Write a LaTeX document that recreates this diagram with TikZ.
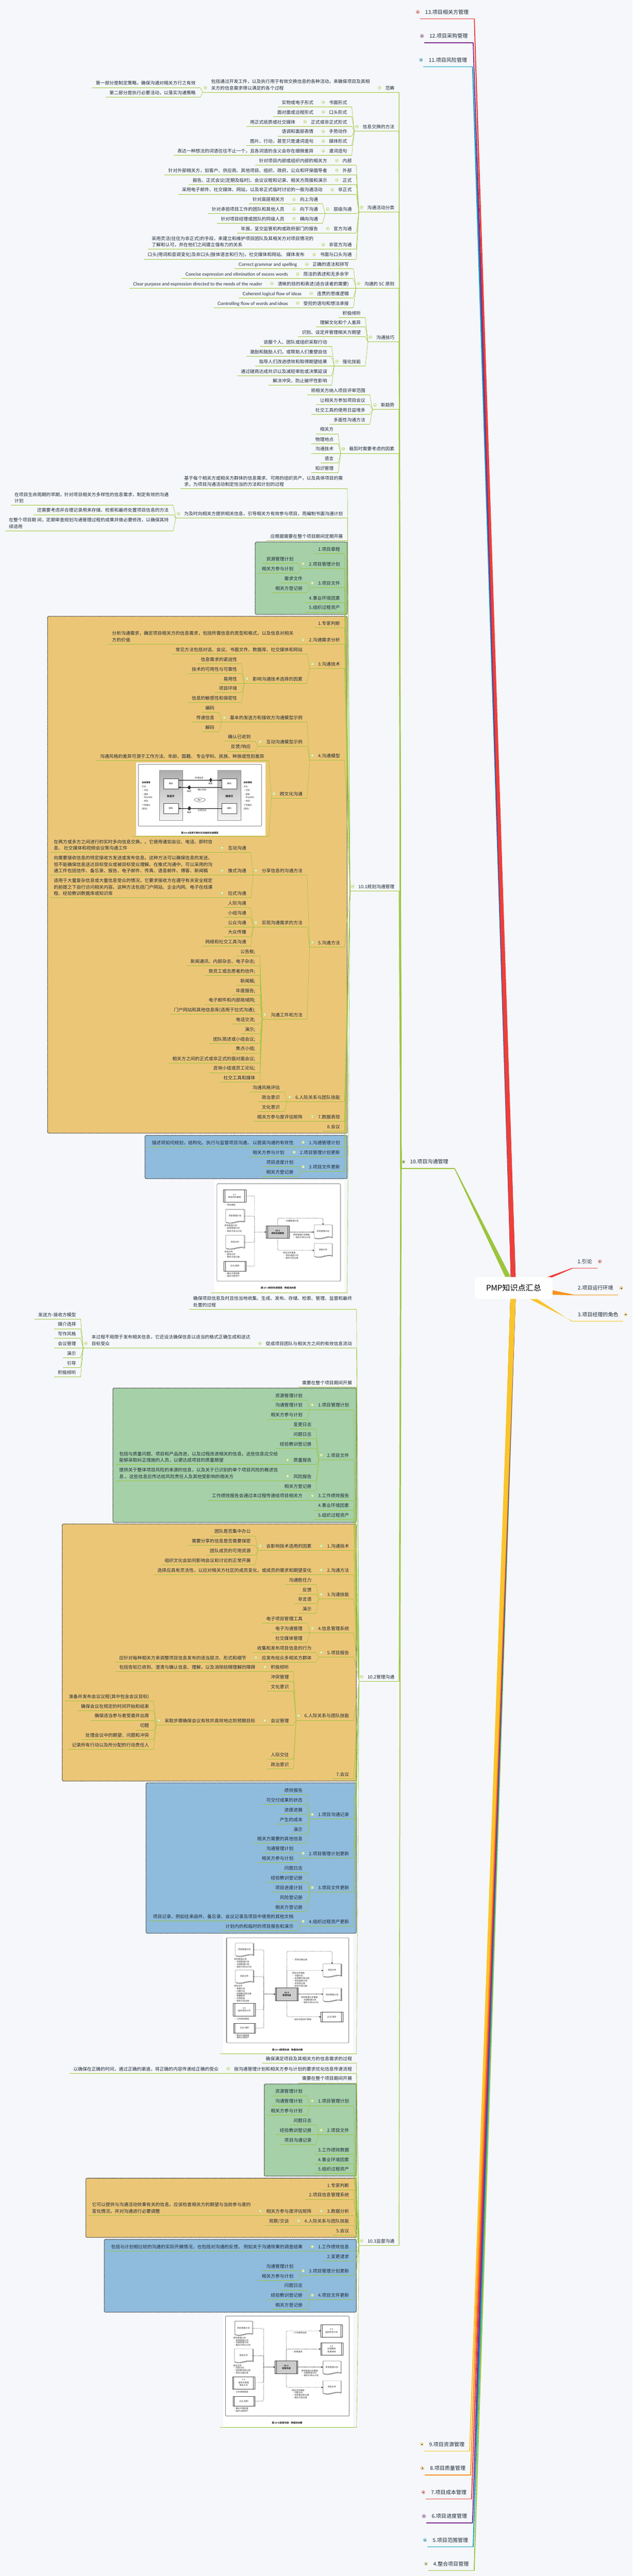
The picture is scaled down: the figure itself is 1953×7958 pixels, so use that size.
\documentclass[tikz,border=0pt]{standalone}
\usepackage{fontspec}
\setmainfont{Noto Sans CJK SC}
\newfontfamily\lat{Lato}
\usetikzlibrary{arrows.meta,calc,shapes.geometric}
\pgfdeclarelayer{fg}
\pgfsetlayers{main,fg}
\definecolor{bgc}{HTML}{F5F7FA}
\definecolor{txc}{HTML}{1E2A38}
\definecolor{lnc}{HTML}{9CC53D}
\definecolor{pg}{HTML}{A5D0A8}
\definecolor{po}{HTML}{ECC677}
\definecolor{pb}{HTML}{8FBBDC}
\definecolor{cred}{HTML}{EE3F38}
\definecolor{cora}{HTML}{F7941E}
\definecolor{cyel}{HTML}{F9C52D}
\definecolor{cpur}{HTML}{7E2E8E}
\definecolor{ctea}{HTML}{12A1C4}
\tikzset{
 tn/.style={inner sep=0pt,outer sep=0pt,align=left,text=txc,text depth=2pt,font=\fontsize{14pt}{20pt}\selectfont},
 t1n/.style={inner sep=0pt,outer sep=0pt,text=txc,font=\fontsize{16pt}{20pt}\selectfont},
 ln/.style={color=lnc,line width=1pt},
 ul/.style={color=lnc,line width=1.2pt},
 ic/.style={circle,draw=lnc,fill=white,line width=.8pt,minimum size=9pt,inner sep=0pt},
 panel/.style={draw=black!70,line width=2pt,densely dotted,rounded corners=4pt},
 sm/.style={inner sep=0pt,outer sep=0pt,text=black!85,align=center,font=\fontsize{6.5pt}{8.5pt}\selectfont},
 boxw/.style={sm,draw=black!70,fill=white,line width=.7pt},
 boxp/.style={sm,draw=black!70,fill=black!20,line width=.7pt,font=\fontsize{6.5pt}{8.5pt}\selectfont\bfseries},
 docf/.style={draw=black!70,fill=white,line width=.6pt},
 docn/.style={sm},
 capn/.style={sm,text=black!85,font=\fontsize{7pt}{9pt}\selectfont\bfseries},
 fl/.style={dotted,line width=1pt,rounded corners=3pt,color=black},
 fla/.style={fl,-{Stealth[length=5pt,width=4.5pt]}},
 ar/.style={line width=.7pt,color=black,-{Stealth[length=6pt,width=5pt]}},
 frm/.style={draw=black!75,line width=.8pt,rounded corners=2pt},
}
\def\shft{0pt}
\newcounter{tlc}
% leaf
\newcommand\LN[4]{%
 \path let \p1=(#2.west) in node[tn,anchor=south east] (#1) at ({\x1-48pt-\shft},{-(#3-6)*1pt}) {#4};
 \coordinate (#1-r) at ([shift={(14pt,-6pt)}]#1.south east);
 \coordinate (#1-l) at ([shift={(-12pt,-6pt)}]#1.south west);
 \draw[ln] (#2-j) -- (#1-r);
 \draw[ul] (#1-l) -- (#1-r);
}
% node with children
\newcommand\PN[4]{%
 \path let \p1=(#2.west) in node[tn,anchor=south east] (#1) at ({\x1-48pt-\shft},{-(#3-6)*1pt}) {#4};
 \coordinate (#1-r) at ([shift={(14pt,-6pt)}]#1.south east);
 \coordinate (#1-j) at ([shift={(-26pt,-6pt)}]#1.south west);
 \draw[ln] (#2-j) -- (#1-r);
 \draw[ul] (#1-j) -- (#1-r);
 \node[ic] (#1-i) at ([shift={(-18pt,8pt)}]#1.south west) {};
 \draw[color=lnc,line width=.8pt] ([xshift=-2.4pt]#1-i.center) -- ([xshift=2.4pt]#1-i.center);
}
\newcommand\PT[4]{\PN{#1}{#2}{#3}{#4}%
 \fill[lnc] ([xshift=-2pt]#2-j) -- ([xshift=2pt]#2-j) -- ([xshift=.7pt]#1-r) -- ([xshift=-.7pt]#1-r) -- cycle;}
\newcommand\PL[5]{\PN{#1}{#2}{#3}{#4}\LN{#1x}{#1}{#3}{#5}}
\newcommand\PB[4]{\def\shft{9pt}\PN{#1}{#2}{#3}{#4}\def\shft{0pt}}
\newcommand\LB[4]{\def\shft{9pt}\LN{#1}{#2}{#3}{#4}\def\shft{0pt}}
\newcommand\PBL[5]{\PB{#1}{#2}{#3}{#4}\LN{#1x}{#1}{#3}{#5}}
% top-level topics: name, text west x, underline y, xl, xr, circle x, colour, text
\newcommand\TopN[8]{%
 \node[t1n,anchor=west] (#1) at (#2,#3-21) {#8};
 \coordinate (#1-l) at (#4,#3);
 \coordinate (#1-r) at (#5,#3);
 \draw[line width=2.2pt,color=#7] (#1-l) -- (#1-r);
 \node[circle,draw=#7,fill=white,line width=.9pt,minimum size=10pt,inner sep=0pt] (#1-i) at (#6,#3-21) {};
 \draw[line width=.7pt,color=black!80] ([xshift=-2.4pt]#1-i.center) -- ([xshift=2.4pt]#1-i.center);
 \draw[line width=.7pt,color=black!80] ([yshift=-2.4pt]#1-i.center) -- ([yshift=2.4pt]#1-i.center);
}
\newcommand\WT[3]{\fill[#2] ([xshift=-1.4pt]#1-r) -- ([xshift=1.4pt]#1-r) -- ([xshift=#3+15pt]root.north) -- ([xshift=#3]root.north) -- cycle;}
\newcommand\WB[2]{\fill[#2] ([xshift=-1.4pt]#1-r) -- ([xshift=1.4pt]#1-r) -- ([xshift=6pt]root.south) -- ([xshift=-10pt]root.south) -- cycle;}
% picture leaf: name parent x1 y1 x2 y2 yu xl xr
\newcommand\IM[9]{%
 \node[draw=none,fill=white,inner sep=0pt,outer sep=0pt,minimum width={(#5-#3)*1pt},minimum height={(#6-#4)*1pt}] (#1) at ({(#3+#5)/2},{(#4+#6)/2}) {};
 \coordinate (#1-l) at (#8,#7);
 \coordinate (#1-r) at (#9,#7);
 \draw[ln] (#2-j) -- (#1-r);
 \draw[ul] (#1-l) -- (#1-r);
}
\newcommand\DocD[5]{\draw[docf,#5] (#1,#2) -- (#3,#2) -- ({#3},{#4-5}) .. controls ({#3-(#3-#1)*.35},{#4-11}) and ({#1+(#3-#1)*.4},{#4+4}) .. ({#1},{#4-3}) -- cycle;}
\newcommand\DocS[6]{%
 \DocD{#2}{#3}{#4}{#5}{xshift=2.4pt,yshift=-2pt}
 \DocD{#2}{#3}{#4}{#5}{xshift=1.2pt,yshift=-1pt}
 \DocD{#2}{#3}{#4}{#5}{}
 \node[docn,minimum width={(#4-#2)*1pt},minimum height={(#5-#3)*1pt}] (#1) at ({(#2+#4)/2},{(#3+#5)/2}) {\raisebox{3pt}{#6}};
}
\newcommand\BoxS[7]{%
 \node[#7,minimum width={(#4-#2)*1pt},minimum height={(#5-#3)*1pt}] (#1) at ({(#2+#4)/2},{(#3+#5)/2}) {#6};
 \draw[line width=.5pt,color=black!70] ({#2+4},{#3}) -- ({#2+4},{#5});
 \draw[line width=.5pt,color=black!70] ({#4-4},{#3}) -- ({#4-4},{#5});
}
\newcommand\TL[3]{\stepcounter{tlc}\node[sm,anchor=west] (tl\arabic{tlc}) at (#1,#2) {#3};}
\newcommand\TC[3]{\stepcounter{tlc}\node[sm] (tl\arabic{tlc}) at (#1,#2) {#3};}
\newcommand\Noi[2]{\foreach \dd/\hh in {-4/2,-2.5/4,-1/6,.5/5,2/6,3.5/3}{\draw[line width=.5pt,color=black!80] ({#1+\dd},{#2-\hh}) -- ({#1+\dd},{#2+\hh});}}
\begin{document}
\begin{tikzpicture}[x=1pt,y=-1pt]
\fill[bgc] (0,0) rectangle (1953,7958);
\path[use as bounding box] (0,0) rectangle (1953,7958);
\begin{pgfonlayer}{fg}
\node[fill=white,rounded corners=8pt,inner sep=0pt,outer sep=0pt,minimum width=240pt,minimum height=68pt,text=black,font=\fontsize{24pt}{28pt}\selectfont] (root) at (1586,3979) {PMP知识点汇总};
\end{pgfonlayer}
% panels
\draw[panel,fill=pg] (788,1674.5) rectangle (1072,1898);
\draw[panel,fill=po] (147,1904) rectangle (1072,3500.7);
\draw[panel,fill=pb] (447.6,3507.6) rectangle (1072,3641.3);
\draw[panel,fill=pg] (348.7,4288) rectangle (1100,4703);
\draw[panel,fill=po] (192,4708) rectangle (1100,5502);
\draw[panel,fill=pb] (451,5507.6) rectangle (1100,5972.4);
\draw[panel,fill=pg] (816,6438) rectangle (1100,6722.4);
\draw[panel,fill=po] (265,6729) rectangle (1100,6912);
\draw[panel,fill=pb] (322,6918) rectangle (1100,7143);
% top level
\TopN{t13}{1313}{58}{1297}{1464.5}{1290}{cred}{13.项目相关方管理}
\TopN{t12}{1326}{132}{1310}{1461}{1303}{cpur}{12.项目采购管理}
\TopN{t11}{1324}{206}{1307}{1459}{1300}{ctea}{11.项目风险管理}
\TopN{t10}{1266}{3610}{1238}{1404}{1246}{lnc}{10.项目沟通管理}
\coordinate (t10-j) at (1238,3610);
\TopN{t9}{1325}{7572}{1309}{1450}{1302}{cyel}{9.项目资源管理}
\TopN{t8}{1328}{7646}{1311}{1453}{1304}{cora}{8.项目质量管理}
\TopN{t7}{1331}{7720}{1314}{1456}{1307}{cred}{7.项目成本管理}
\TopN{t6}{1333}{7794}{1316}{1459}{1309}{cpur}{6.项目进度管理}
\TopN{t5}{1336}{7868}{1319}{1461}{1312}{ctea}{5.项目范围管理}
\TopN{t4}{1338}{7941}{1322}{1464}{1315}{lnc}{4.整合项目管理}
\TopN{t1}{1783}{3918}{1767}{1845}{1852}{cred}{1.引论}
\TopN{t2}{1784}{4000}{1769}{1909}{1918}{cora}{2.项目运行环境}
\TopN{t3}{1784}{4082}{1767}{1925}{1932}{cyel}{3.项目经理的角色}
\WT{t11}{ctea}{-9pt}
\WT{t12}{cpur}{-9pt}
\WT{t13}{cred}{-9pt}
\fill[lnc] ([xshift=-1.4pt]t10-r) -- ([xshift=1.4pt]t10-r) -- ([xshift=-9pt]root.north) -- ([xshift=-26pt]root.north) -- cycle;
\WB{t4}{lnc}\WB{t5}{ctea}\WB{t6}{cpur}\WB{t7}{cred}\WB{t8}{cora}\WB{t9}{cyel}
\fill[cred] ([shift={(-28pt,-4pt)}]root.north east) -- ([shift={(-2pt,-1.5pt)}]root.north east) -- ([yshift=-1.2pt]t1-l) -- ([yshift=1.2pt]t1-l) -- cycle;
\fill[cora] ([yshift=-7pt]root.east) -- ([yshift=-21pt]root.east) -- ([yshift=-1.2pt]t2-l) -- ([yshift=1.2pt]t2-l) -- cycle;
\fill[cyel] ([xshift=50pt]root.south) -- ([xshift=73pt]root.south) -- ([yshift=-1.2pt]t3-l) -- ([yshift=1.2pt]t3-l) -- cycle;
% ---------- general
\PT{a}{t10}{285}{范畴}
\PN{a1}{a}{285}{包括通过开发工件，以及执行用于有效交换信息的各种活动，来确保项目及其相\\关方的信息需求得以满足的各个过程}
\LN{a1a}{a1}{270.5}{第一部分是制定策略，确保沟通对相关方行之有效}
\LN{a1b}{a1}{300.5}{第二部分是执行必要活动，以落实沟通策略}
\PT{b}{t10}{405}{信息交换的方法}
\PL{b1}{b}{330}{书面形式}{实物或电子形式}
\PL{b2}{b}{360}{口头形式}{面对面或远程形式}
\PL{b3}{b}{390}{正式或非正式形式}{用正式纸质或社交媒体}
\PL{b4}{b}{420}{手势动作}{语调和面部表情}
\PL{b5}{b}{450}{媒体形式}{图片、行动，甚至只是遣词造句}
\PL{b6}{b}{480}{遣词造句}{表达一种想法的词语往往不止一个，且各词语的含义会存在细微差异}
\PT{c}{t10}{655}{沟通活动分类}
\PL{c1}{c}{510}{内部}{针对项目内部或组织内部的相关方}
\PL{c2}{c}{540}{外部}{针对外部相关方，如客户、供应商、其他项目、组织、政府，公众和环保倡导者}
\PL{c3}{c}{570}{正式}{报告、正式会议(定期及临时)、会议议程和记录、相关方简报和演示}
\PL{c4}{c}{600}{非正式}{采用电子邮件、社交媒体、网站，以及非正式临时讨论的一般沟通活动}
\PN{c5}{c}{660}{层级沟通}
\PL{c5a}{c5}{630}{向上沟通}{针对高层相关方}
\PL{c5b}{c5}{660}{向下沟通}{针对承担项目工作的团队和其他人员}
\PL{c5c}{c5}{690}{横向沟通}{针对项目经理或团队的同级人员}
\PL{c6}{c}{720}{官方沟通}{年报，呈交监管机构或政府部门的报告}
\PL{c7}{c}{770}{非官方沟通}{采用灵活(往往为非正式)的手段，来建立和维护项目团队及其相关方对项目情况的\\了解和认可，并在他们之间建立强有力的关系}
\PL{c8}{c}{800.5}{书面与口头沟通}{口头(用词和音调变化)及非口头(肢体语言和行为)，社交媒体和网站、 媒体发布}
\PT{d}{t10}{890}{沟通的 5C 原则}
\PL{d1}{d}{830.6}{正确的语法和拼写}{\lat Correct grammar and spelling}
\PL{d2}{d}{860.7}{简洁的表述和无多余字}{\lat Concise expression and elimination of excess words}
\PL{d3}{d}{890}{清晰的目的和表述(适合读者的需要)}{\lat Clear purpose and expression directed to the needs of the reader}
\PL{d4}{d}{920.4}{连贯的思维逻辑}{\lat Coherent logical flow of ideas}
\PL{d5}{d}{950.5}{受控的语句和想法承接}{\lat Controlling flow of words and ideas}
\PT{e}{t10}{1055.6}{沟通技巧}
\LN{e1}{e}{980.6}{积极倾听}
\LN{e2}{e}{1010}{理解文化和个人差异}
\LN{e3}{e}{1040}{识别、设定并管理相关方期望}
\PN{e4}{e}{1130.6}{强化技能}
\LN{e4a}{e4}{1070}{说服个人、团队或组织采取行动}
\LN{e4b}{e4}{1100.5}{激励和鼓励人们，或帮助人们重塑自信}
\LN{e4c}{e4}{1130.6}{指导人们改进绩效和取得期望结果}
\LN{e4d}{e4}{1160.7}{通过磋商达成共识以及减轻审批或决策延误}
\LN{e4e}{e4}{1190.3}{解决冲突，防止破坏性影响}
\PT{f}{t10}{1265}{新趋势}
\LN{f1}{f}{1220}{将相关方纳入项目评审范围}
\LN{f2}{f}{1250.5}{让相关方参加项目会议}
\LN{f3}{f}{1280.6}{社交工具的使用日益增多}
\LN{f4}{f}{1310.7}{多面性沟通方法}
\PT{g}{t10}{1400.5}{裁剪时需要考虑的因素}
\LN{g1}{g}{1340}{相关方}
\LN{g2}{g}{1370.4}{物理地点}
\LN{g3}{g}{1400.5}{沟通技术}
\LN{g4}{g}{1430.6}{语言}
\LN{g5}{g}{1460}{知识管理}
% ---------- 10.1
\PT{p}{t10}{2752.6}{10.1规划沟通管理}
\LN{pa}{p}{1510}{基于每个相关方或相关方群体的信息需求、可用的组织资产，以及具体项目的需\\求，为项目沟通活动制定恰当的方法和计划的过程}
\PN{pb1}{p}{1600.5}{为及时向相关方提供相关信息，引导相关方有效参与项目，而编制书面沟通计划}
\LN{pb1a}{pb1}{1560.7}{在项目生命周期的早期，针对项目相关方多样性的信息需求，制定有效的沟通\\计划}
\LN{pb1b}{pb1}{1590}{还需要考虑并合理记录用来存储、检索和最终处置项目信息的方法}
\LN{pb1c}{pb1}{1640}{在整个项目期 间，定期审查规划沟通管理过程的成果并做必要修改，以确保其持\\续适用}
\LN{pc}{p}{1670}{应根据需要在整个项目期间定期开展}
% inputs
\LB{i1}{p}{1710.7}{1.项目章程}
\PB{i2}{p}{1755.6}{2.项目管理计划}
\LN{i2a}{i2}{1740}{资源管理计划}
\LN{i2b}{i2}{1770}{相关方参与计划}
\PB{i3}{p}{1815}{3.项目文件}
\LN{i3a}{i3}{1800.5}{需求文件}
\LN{i3b}{i3}{1830.6}{相关方登记册}
\LB{i4}{p}{1860.7}{4.事业环境因素}
\LB{i5}{p}{1890.8}{5.组织过程资产}
% tools
\LB{j1}{p}{1939.8}{1.专家判断}
\PBL{j2}{p}{1990.3}{2.沟通需求分析}{分析沟通需求，确定项目相关方的信息需求，包括所需信息的类型和格式，以及信息对相关\\方的价值}
\PB{j3}{p}{2065}{3.沟通技术}
\LN{j3a}{j3}{2020}{常见方法包括对话、会议、书面文件、数据库、社交媒体和网站}
\PN{j3b}{j3}{2110.7}{影响沟通技术选择的因素}
\LN{j3b1}{j3b}{2050.5}{信息需求的紧迫性}
\LN{j3b2}{j3b}{2080.6}{技术的可用性与可靠性}
\LN{j3b3}{j3b}{2110.7}{易用性}
\LN{j3b4}{j3b}{2140.3}{项目环境}
\LN{j3b5}{j3b}{2170.4}{信息的敏感性和保密性}
\PB{j4}{p}{2348.5}{4.沟通模型}
\PN{j4a}{j4}{2230.6}{基本的发送方和接收方沟通模型示例}
\LN{j4a1}{j4a}{2200.5}{编码}
\LN{j4a2}{j4a}{2230.6}{传递信息}
\LN{j4a3}{j4a}{2260.7}{解码}
\PN{j4b}{j4}{2305}{互动沟通模型示例}
\LN{j4b1}{j4b}{2290}{确认已收到}
\LN{j4b2}{j4b}{2320.4}{反馈/响应}
\PN{j4c}{j4}{2465.8}{跨文化沟通}
\LN{j4c1}{j4c}{2350.5}{沟通风格的差异可源于工作方法、年龄、国籍、 专业学科、民族、种族或性别差异}
\IM{im1}{j4c}{420}{2355}{820}{2581}{2583}{409}{830}
\PB{j5}{p}{2925.5}{5.沟通方法}
\PN{j5a}{j5}{2703.6}{分享信息的沟通方法}
\PL{j5a1}{j5a}{2633.7}{互动沟通}{在两方或多方之间进行的实时多向信息交换。。它使用诸如会议、电话、即时信\\息、 社交媒体和视频会议等沟通工件}
\PL{j5a2}{j5a}{2703.6}{推式沟通}{向需要接收信息的特定接收方发送或发布信息。这种方法可以确保信息的发送，\\但不能确保信息送达目标受众或被目标受众理解。在推式沟通中，可以采用的沟\\通工件包括信件、备忘录、报告、电子邮件、传真、语音邮件、博客、新闻稿}
\PL{j5a3}{j5a}{2773.5}{拉式沟通}{适用于大量复杂信息或大量信息受众的情况。它要求接收方在遵守有关安全规定\\的前提之下自行访问相关内容。这种方法包括门户网站、企业内网、电子在线课\\程、经验教训数据库或知识库}
\PN{j5b}{j5}{2863.8}{实现沟通需求的方法}
\LN{j5b1}{j5b}{2803.6}{人际沟通}
\LN{j5b2}{j5b}{2833.7}{小组沟通}
\LN{j5b3}{j5b}{2863.8}{公众沟通}
\LN{j5b4}{j5b}{2893.4}{大众传播}
\LN{j5b5}{j5b}{2923.5}{网络和社交工具沟通}
\PN{j5c}{j5}{3148.2}{沟通工件和方法}
\LN{j5c1}{j5c}{2953.6}{公告板;}
\LN{j5c2}{j5c}{2983.7}{新闻通讯、内部杂志、电子杂志;}
\LN{j5c3}{j5c}{3013.3}{致员工或志愿者的信件;}
\LN{j5c4}{j5c}{3043.4}{新闻稿;}
\LN{j5c5}{j5c}{3073.5}{年度报告;}
\LN{j5c6}{j5c}{3103.6}{电子邮件和内部局域网;}
\LN{j5c7}{j5c}{3133.3}{门户网站和其他信息库(适用于拉式沟通);}
\LN{j5c8}{j5c}{3163}{电话交流;}
\LN{j5c9}{j5c}{3193.6}{演示;}
\LN{j5c10}{j5c}{3223.4}{团队简述或小组会议;}
\LN{j5c11}{j5c}{3253}{焦点小组;}
\LN{j5c12}{j5c}{3283.7}{相关方之间的正式或非正式的面对面会议;}
\LN{j5c13}{j5c}{3313.5}{咨询小组或员工论坛;}
\LN{j5c14}{j5c}{3343.4}{社交工具和媒体}
\PB{j6}{p}{3403.7}{6.人际关系与团队技能}
\LN{j6a}{j6}{3373}{沟通风格评估}
\LN{j6b}{j6}{3403.7}{政治意识}
\LN{j6c}{j6}{3433.5}{文化意识}
\PBL{j7}{p}{3463.4}{7.数据表现}{相关方参与度评估矩阵}
\LB{j8}{p}{3493.8}{8.会议}
% outputs
\PBL{k1}{p}{3543}{1.沟通管理计划}{描述将如何规划，结构化、执行与监督项目沟通， 以提高沟通的有效性}
\PBL{k2}{p}{3573.6}{2.项目管理计划更新}{相关方参与计划}
\PB{k3}{p}{3618.4}{3.项目文件更新}
\LN{k3a}{k3}{3603.4}{项目进度计划}
\LN{k3b}{k3}{3633.9}{相关方登记册}
\IM{im2}{p}{661.6}{3648}{1063}{3992.7}{3994.4}{651}{1072}
% ---------- 10.2
\PT{q}{t10}{5194}{10.2管理沟通}
\LN{qa}{q}{4044.4}{确保项目信息及时且恰当地收集、生成、发布、存储、检索、管理、监督和最终\\处置的过程}
\PN{qb}{q}{4164.3}{促成项目团队与相关方之间的有效信息流动}
\PN{qb1}{qb}{4164.3}{本过程不局限于发布相关信息，它还设法确保信息以适当的格式正确生成和送达\\目标受众}
\LN{qb1a}{qb1}{4074.5}{发送方-接收方模型}
\LN{qb1b}{qb1}{4104.6}{媒介选择}
\LN{qb1c}{qb1}{4134.7}{写作风格}
\LN{qb1d}{qb1}{4164.3}{会议管理}
\LN{qb1e}{qb1}{4194.4}{演示}
\LN{qb1f}{qb1}{4224.5}{引导}
\LN{qb1g}{qb1}{4254}{积极倾听}
\LN{qc}{q}{4284.7}{需要在整个项目期间开展}
\PB{m1}{q}{4354.6}{1.项目管理计划}
\LN{m1a}{m1}{4324.5}{资源管理计划}
\LN{m1b}{m1}{4354.6}{沟通管理计划}
\LN{m1c}{m1}{4384.7}{相关方参与计划}
\PB{m2}{q}{4509}{2.项目文件}
\LN{m2a}{m2}{4414.3}{变更日志}
\LN{m2b}{m2}{4444.4}{问题日志}
\LN{m2c}{m2}{4474.5}{经验教训登记册}
\PL{m2d}{m2}{4524.5}{质量报告}{包括与质量问题、项目和产品改进，以及过程改进相关的信息。这些信息应交给\\能够采取纠正措施的人员，以便达成项目的质量期望}
\PL{m2e}{m2}{4574.5}{风险报告}{提供关于整体项目风险的来源的信息，以及关于已识别的单个项目风险的概述信\\息 。这些信息应传达给风险责任人及其他受影响的相关方}
\LN{m2f}{m2}{4604.6}{相关方登记册}
\PBL{m3}{q}{4634.7}{3.工作绩效报告}{工作绩效报告会通过本过程传递给项目相关方}
\LB{m4}{q}{4664.8}{4.事业环境因素}
\LB{m5}{q}{4694.4}{5.组织过程资产}
\PB{n1}{q}{4789.8}{1.沟通技术}
\PN{n1a}{n1}{4789.8}{会影响技术选用的因素}
\LN{n1a1}{n1a}{4744.4}{团队是否集中办公}
\LN{n1a2}{n1a}{4774.5}{需要分享的信息是否需要保密}
\LN{n1a3}{n1a}{4804.6}{团队成员的可用资源}
\LN{n1a4}{n1a}{4834.7}{组织文化会如何影响会议和讨论的正常开展}
\PBL{n2}{q}{4864.3}{2.沟通方法}{选择应具有灵活性，以应对相关方社区的成员变化，或成员的需求和期望变化}
\PB{n3}{q}{4939.3}{3.沟通技能}
\LN{n3a}{n3}{4894.4}{沟通胜任力}
\LN{n3b}{n3}{4924.5}{反馈}
\LN{n3c}{n3}{4954}{非言语}
\LN{n3d}{n3}{4984.2}{演示}
\PB{n4}{q}{5044.4}{4.信息管理系统}
\LN{n4a}{n4}{5014.3}{电子项目管理工具}
\LN{n4b}{n4}{5044.4}{电子沟通管理}
\LN{n4c}{n4}{5074.5}{社交媒体管理}
\PB{n5}{q}{5119.4}{5.项目报告}
\LN{n5a}{n5}{5104.6}{收集和发布项目信息的行为}
\PL{n5b}{n5}{5134.7}{应发布给众多相关方群体}{应针对每种相关方来调整项目信息发布的适当层次、形式和细节}
\PB{n6}{q}{5314.3}{6.人际关系与团队技能}
\PL{n6a}{n6}{5164.3}{积极倾听}{包括告知已收到、澄清与确认信息、理解，以及消除妨碍理解的障碍}
\LN{n6b}{n6}{5194.4}{冲突管理}
\LN{n6c}{n6}{5224.5}{文化意识}
\PN{n6d}{n6}{5329.6}{会议管理}
\PN{n6dx}{n6d}{5329.6}{采取步骤确保会议有效并高效地达到预期目标}
\LN{n6d1}{n6dx}{5254.6}{准备并发布会议议程(其中包含会议目标)}
\LN{n6d2}{n6dx}{5284.7}{确保会议在规定的时间开始和结束}
\LN{n6d3}{n6dx}{5314.3}{确保适当参与者受邀并出席}
\LN{n6d4}{n6dx}{5344.4}{切题}
\LN{n6d5}{n6dx}{5374.5}{处理会议中的期望、问题和冲突}
\LN{n6d6}{n6dx}{5404.6}{记录所有行动以及所分配的行动责任人}
\LN{n6e}{n6}{5434.7}{人际交往}
\LN{n6f}{n6}{5464.3}{政治意识}
\LB{n7}{q}{5494.4}{7.会议}
\PB{o1}{q}{5619.4}{1.项目沟通记录}
\LN{o1a}{o1}{5544.4}{绩效报告}
\LN{o1b}{o1}{5574.5}{可交付成果的状态}
\LN{o1c}{o1}{5604.6}{进度进展}
\LN{o1d}{o1}{5634.7}{产生的成本}
\LN{o1e}{o1}{5664.8}{演示}
\LN{o1f}{o1}{5694.4}{相关方需要的其他信息}
\PB{o2}{q}{5739.3}{2.项目管理计划更新}
\LN{o2a}{o2}{5724.5}{沟通管理计划}
\LN{o2b}{o2}{5754.6}{相关方参与计划}
\PB{o3}{q}{5845}{3.项目文件更新}
\LN{o3a}{o3}{5784.7}{问题日志}
\LN{o3b}{o3}{5814.8}{经验教训登记册}
\LN{o3c}{o3}{5844.9}{项目进度计划}
\LN{o3d}{o3}{5875}{风险登记册}
\LN{o3e}{o3}{5905}{相关方登记册}
\PB{o4}{q}{5949.5}{4.组织过程资产更新}
\LN{o4a}{o4}{5934.7}{项目记录，例如往来函件、备忘录、会议记录及项目中使用的其他文档}
\LN{o4b}{o4}{5964.8}{计划内的和临时的项目报告和演示}
\IM{im3}{q}{689.7}{5978.6}{1091}{6343}{6344.9}{679}{1100.7}
% ---------- 10.3
\PT{r}{t10}{6936.7}{10.3监督沟通}
\LN{ra}{r}{6374}{确保满足项目及其相关方的信息需求的过程}
\PL{rb}{r}{6404.6}{按沟通管理计划和相关方参与计划的要求优化信息传递流程}{以确保在正确的时间，通过正确的渠道，将正确的内容传递给正确的受众}
\LN{rc}{r}{6434.7}{需要在整个项目期间开展}
\PB{u1}{r}{6504.6}{1.项目管理计划}
\LN{u1a}{u1}{6474.5}{资源管理计划}
\LN{u1b}{u1}{6504.6}{沟通管理计划}
\LN{u1c}{u1}{6534.7}{相关方参与计划}
\PB{u2}{r}{6594.4}{2.项目文件}
\LN{u2a}{u2}{6564.3}{问题日志}
\LN{u2b}{u2}{6594.4}{经验教训登记册}
\LN{u2c}{u2}{6624.5}{项目沟通记录}
\LB{u3}{r}{6654.6}{3.工作绩效数据}
\LB{u4}{r}{6684.7}{4.事业环境因素}
\LB{u5}{r}{6714.3}{5.组织过程资产}
\LB{v1}{r}{6764.3}{1.专家判断}
\LB{v2}{r}{6794.4}{2.项目信息管理系统}
\PB{v3}{r}{6844.4}{3.数据分析}
\PL{v3a}{v3}{6844.4}{相关方参与度评估矩阵}{它可以提供与沟通活动效果有关的信息。应该检查相关方的期望与当前参与度的\\变化情况，并对沟通进行必要调整}
\PBL{v4}{r}{6874.5}{4.人际关系与团队技能}{观察/交谈}
\LB{v5}{r}{6904.6}{5.会议}
\PBL{w1}{r}{6954.6}{1.工作绩效信息}{包括与计划相比较的沟通的实际开展情况，也包括对沟通的反馈， 例如关于沟通效果的调查结果}
\LB{w2}{r}{6984.7}{2.变更请求}
\PB{w3}{r}{7029}{3.项目管理计划更新}
\LN{w3a}{w3}{7014.3}{沟通管理计划}
\LN{w3b}{w3}{7044.4}{相关方参与计划}
\PB{w4}{r}{7104.6}{4.项目文件更新}
\LN{w4a}{w4}{7074.5}{问题日志}
\LN{w4b}{w4}{7104.6}{经验教训登记册}
\LN{w4c}{w4}{7134.7}{相关方登记册}
\IM{im4}{r}{689}{7148}{1091}{7497}{7498.7}{679}{1101}
% ---------- figure 10-4
\draw[frm] (427,2361) rectangle (807.5,2552);
\shade[top color=black!32,bottom color=black!4,draw=black!45,line width=1pt] (492,2380) rectangle (564,2535);
\shade[top color=black!32,bottom color=black!4,draw=black!45,line width=1pt] (672,2380) rectangle (744,2535);
\node[boxw,minimum width=46.5pt,minimum height=33pt] (ca) at (528,2421.3) {编码};
\node[boxw,minimum width=46.5pt,minimum height=33pt] (cb) at (528,2497.5) {解码};
\node[boxw,minimum width=46.5pt,minimum height=33pt] (cc) at (708,2421.3) {解码};
\node[boxw,minimum width=46.5pt,minimum height=33pt] (cd) at (708,2497.5) {编码};
\draw[ar] ([yshift=11pt]ca.east) -- ([yshift=11pt]cc.west);
\draw[ar] ([yshift=-11pt]cc.west) -- ([yshift=-11pt]ca.east);
\draw[ar] (cd.west) -- (cb.east);
\node[sm,font=\fontsize{8pt}{10pt}\selectfont\bfseries] (ce) at (527,2460) {发送方};
\node[sm,font=\fontsize{8pt}{10pt}\selectfont\bfseries] (cf) at (708,2460) {接收方};
\node[sm,draw=black!80,ellipse,minimum width=34pt,minimum height=12pt,line width=.7pt] (cg) at (617,2471) {媒介};
\TC{615}{2403.6}{传递信息}
\TC{624}{2440}{确认信息}
\TC{624}{2504}{反馈信息}
\TC{650}{2421}{噪音}
\TC{584}{2444}{噪音}
\TC{584}{2510}{噪音}
\Noi{650}{2410}\Noi{584}{2432.6}\Noi{584}{2497.4}
\TL{438}{2418}{\bfseries 当前情绪}
\TL{438}{2431}{文化：}\TL{438}{2442}{·代际}\TL{438}{2453.6}{·国家}\TL{438}{2464}{·专业学科}\TL{438}{2475}{·性别}\TL{438}{2488}{个性偏见}\TL{438}{2499}{(假设)}
\TL{752}{2418}{\bfseries 当前情绪}
\TL{752}{2431}{文化：}\TL{752}{2442}{·代际}\TL{752}{2453.6}{·国家}\TL{752}{2464}{·专业学科}\TL{752}{2475}{·性别}\TL{752}{2488}{个性偏见}\TL{752}{2499}{(假设)}
\node[capn] (ch) at (617,2573.5) {图 10-4适用于跨文化沟通的沟通模型};
% ---------- figure 10-3
\draw[frm] (670,3657) rectangle (1051,3958);
\BoxS{ga}{690}{3676}{759}{3714}{4.1\\制定项目章程}{boxw}
\DocS{gb}{697}{3736}{754}{3778.5}{项目管理计划}
\DocS{gc}{697}{3816.4}{754}{3859}{项目文件}
\BoxS{gd}{691}{3896}{760}{3927}{企业/组织}{boxw}
\BoxS{gp}{822}{3786.6}{893}{3825.6}{10.1\\规划沟通管理}{boxp}
\DocS{ge}{970}{3784}{1025}{3827}{项目管理计划}
\DocS{gf}{970}{3841.7}{1025}{3884}{项目文件}
\coordinate (gbus) at (786,3806);
\draw[fl] (ga.east) -| (gbus);
\draw[fl] (gb.east) -| (gbus);
\draw[fl] (gc.east) -| (gbus);
\draw[fl] (gd.east) -| (gbus);
\draw[fla] (gbus) -- (gp.west);
\draw[fla] (gp.north) -- ++(0,-23) -| (ge.north);
\draw[fla] (gp.east) -- (gp.east -| ge.west);
\draw[fla] (gp.south) |- (gf.west);
\TL{693}{3722}{• 项目章程}
\TL{693}{3787}{项目管理计划}\TL{693}{3795}{• 资源管理计划}\TL{693}{3804}{• 相关方参与计划}
\TL{693}{3867.5}{项目文件}\TL{693}{3876}{• 需求文件}\TL{693}{3884}{• 相关方登记册}
\TL{693}{3934.7}{• 事业环境因素}\TL{693}{3942.7}{• 组织过程资产}
\TL{875}{3771.6}{• 沟通管理计划}
\TL{905}{3815}{项目管理计划更新}\TL{905}{3823}{• 相关方参与计划}
\TL{874}{3871}{项目文件更新}\TL{874}{3879}{• 项目进度计划}\TL{874}{3887}{• 相关方登记册}
\node[capn] (gz) at (859.5,3978) {图 10-3规划沟通管理：数据流向图};
% ---------- figure 10-6
\draw[frm] (699.5,5986) rectangle (1077,6311);
\DocS{ha}{727}{6003}{782}{6044}{项目管理计划}
\DocS{hb}{727}{6086}{782}{6127}{项目文件}
\BoxS{hc}{720.5}{6189}{788}{6228}{4.5\\监控项目工作}{boxw}
\BoxS{hd}{721}{6250}{788.6}{6280}{企业/组织}{boxw}
\BoxS{hp}{850}{6141}{921}{6180}{10.2\\管理沟通}{boxp}
\DocS{he}{997.6}{6067}{1053}{6108}{项目文件}
\DocS{hf}{997.6}{6142}{1053}{6184}{项目管理计划}
\BoxS{hg}{990.6}{6216}{1058}{6245}{企业/组织}{boxw}
\coordinate (hbus) at (814.5,6160.5);
\draw[fl] (ha.east) -| (hbus);
\draw[fl] (hb.east) -| (hbus);
\draw[fl] (hc.east) -| (hbus);
\draw[fl] (hd.east) -| (hbus);
\draw[fla] (hbus) -- (hp.west);
\draw[fla] (hp.north) -- ++(0,-113) -| (he.north);
\draw[fla] (hp.north) |- (he.west);
\draw[fla] (hp.east) -- (hp.east -| hf.west);
\draw[fla] (hp.south) |- (hg.west);
\TL{722.6}{6053}{项目管理计划}\TL{722.6}{6060.7}{• 资源管理计划}\TL{722.6}{6068}{• 沟通管理计划}\TL{722.6}{6076}{• 相关方参与计划}
\TL{722.6}{6135}{项目文件}\TL{722.6}{6143}{• 变更日志}\TL{722.6}{6151}{• 问题日志}\TL{722.6}{6158.7}{• 经验教训登记册}\TL{722.6}{6166}{• 质量报告}\TL{722.6}{6174}{• 风险报告}\TL{722.6}{6181.6}{• 相关方登记册}
\TL{722.6}{6237}{• 工作绩效报告}
\TL{722.6}{6288}{• 事业环境因素}\TL{722.6}{6295}{• 组织过程资产}
\TL{902}{6054.6}{• 项目沟通记录}
\TL{902}{6096}{项目文件更新}\TL{902}{6104}{• 问题日志}\TL{902}{6112}{• 经验教训登记册}\TL{902}{6119}{• 项目进度计划}\TL{902}{6127}{• 风险登记册}\TL{902}{6135}{• 相关方登记册}
\TL{929.6}{6171}{项目管理计划更新}\TL{929.6}{6179}{• 沟通管理计划}\TL{929.6}{6187}{• 相关方参与计划}
\TL{901.5}{6239}{• 组织过程资产更新}
\node[capn] (hz) at (887.5,6332.6) {图 10-6管理沟通：数据流向图};
% ---------- figure 10-8
\draw[frm] (696,7155) rectangle (1078,7464);
\DocS{ka}{724.7}{7171}{779}{7214.5}{项目管理计划}
\DocS{kb}{724}{7256}{780}{7299}{项目文件}
\BoxS{kc}{718}{7341.6}{786}{7380}{4.3\\指导与管理\\项目工作}{boxw}
\BoxS{kd}{719}{7403}{787}{7433}{企业/组织}{boxw}
\BoxS{kp}{849}{7293}{919}{7332}{10.3\\监督沟通}{boxp}
\BoxS{ke}{990.6}{7181.6}{1057}{7219.3}{4.5\\监控项目工作}{boxw}
\BoxS{kf}{990}{7237.7}{1058}{7276}{4.6\\实施整体\\变更控制}{boxw}
\DocS{kg}{997}{7294}{1052}{7335}{项目管理计划}
\DocS{kh}{997}{7354.7}{1052}{7396}{项目文件}
\coordinate (kbus) at (813.6,7312.5);
\draw[fl] (ka.east) -| (kbus);
\draw[fl] (kb.east) -| (kbus);
\draw[fl] (kc.east) -| (kbus);
\draw[fl] (kd.east) -| (kbus);
\draw[fla] (kbus) -- (kp.west);
\draw[fla] (kp.north) |- (ke.west);
\draw[fla] (kp.north) |- (kf.west);
\draw[fla] (kp.east) -- (kp.east -| kg.west);
\draw[fla] (kp.south) |- (kh.west);
\TL{720}{7222.7}{项目管理计划}\TL{720}{7230}{• 资源管理计划}\TL{720}{7237}{• 沟通管理计划}\TL{720}{7244.5}{• 相关方参与计划}
\TL{720}{7308}{项目文件}\TL{720}{7315.5}{• 问题日志}\TL{720}{7323}{• 经验教训登记册}\TL{720}{7330}{• 项目沟通记录}
\TL{720}{7390}{• 工作绩效报告}
\TL{720}{7440.7}{• 事业环境因素}\TL{720}{7448}{• 组织过程资产}
\TL{900}{7206}{• 工作绩效信息}
\TL{900}{7265}{• 变更请求}
\TL{930}{7324}{项目管理计划更新}\TL{930}{7330.5}{• 沟通管理计划}\TL{930}{7338}{• 相关方参与计划}
\TL{901}{7384.6}{项目文件更新：}\TL{901}{7392}{• 问题日志}\TL{901}{7399.6}{• 经验教训登记册}\TL{901}{7407}{• 相关方登记册}
\node[capn] (kz) at (886.6,7485) {图 10-8监督沟通：数据流向图};
\end{tikzpicture}
\end{document}
